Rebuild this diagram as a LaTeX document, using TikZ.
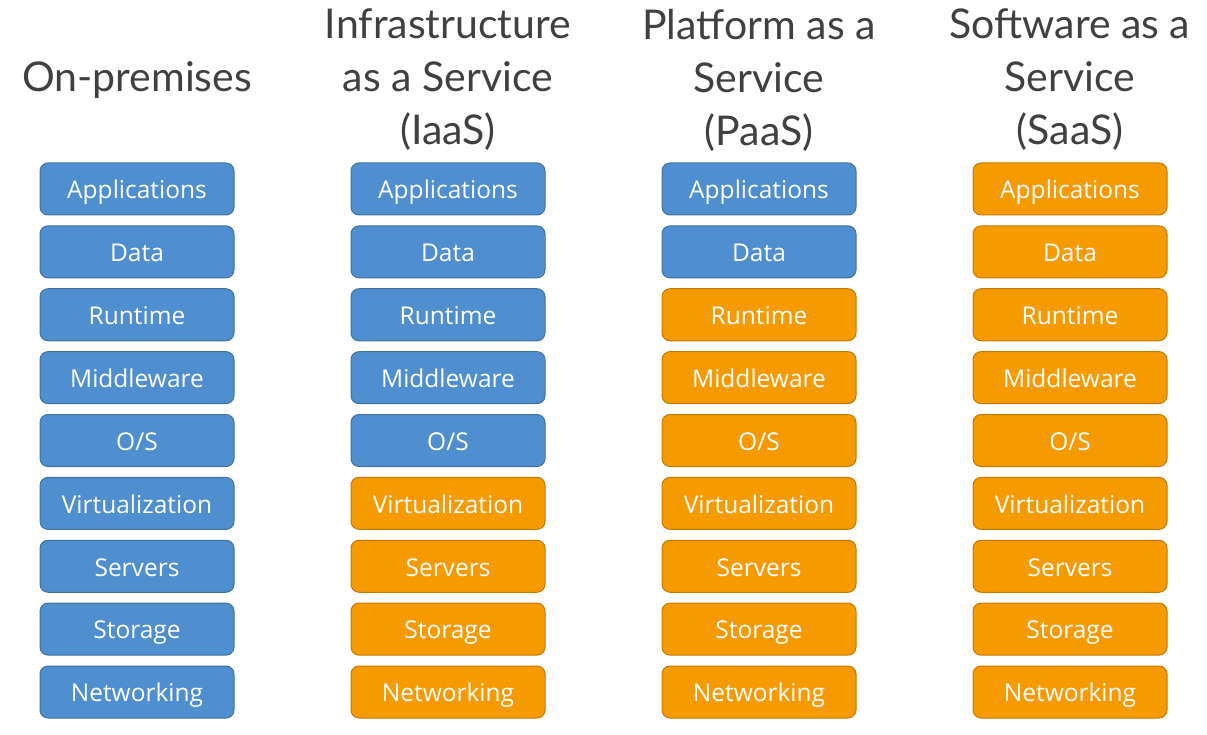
\documentclass[tikz,border=0pt]{standalone}
\usepackage{fontspec}
\setmainfont{Open Sans}
\newfontfamily\titlefont{Lato}
\definecolor{bfill}{HTML}{4F8FCF}
\definecolor{bline}{HTML}{41719C}
\definecolor{ofill}{HTML}{F59A00}
\definecolor{oline}{HTML}{C27A00}
\definecolor{ttext}{HTML}{404040}
\begin{document}
\begin{tikzpicture}[x=1pt,y=-1pt,
  layer/.style={minimum width=194pt,minimum height=52pt,rounded corners=8pt,line width=1pt,inner sep=0pt,text height=19.5pt,text depth=0pt,text=white,font=\fontsize{24.5}{28}\selectfont},
  bluebox/.style={layer,fill=bfill,draw=bline},
  orangebox/.style={layer,fill=ofill,draw=oline},
  ttl/.style={text=ttext,align=center,font=\titlefont\fontsize{41}{53}\selectfont,inner sep=0pt}]
\useasboundingbox (0,0) rectangle (1207,735);
\def\names{Applications,Data,Runtime,Middleware,O/S,Virtualization,Servers,Storage,Networking}
\foreach \c/\nb [count=\ci] in {137/9,448/5,759/2,1070/0}{
  \foreach \n [count=\i] in \names{
    \pgfmathsetmacro{\yy}{189+(\i-1)*62.875}
    \ifnum\i>\nb
      \node[orangebox] (b\ci-\i) at (\c,\yy) {\n};
    \else
      \node[bluebox] (b\ci-\i) at (\c,\yy) {\n};
    \fi
  }
}
\node[ttl] (t1) at (137,80) {On-premises};
\node[ttl] (t2) at (448,80) {Infrastructure\\as a Service\\(IaaS)};
\node[ttl] (t3) at (759,80) {Platform as a\\Service\\(PaaS)};
\node[ttl] (t4) at (1070,80) {Software as a\\Service\\(SaaS)};
\end{tikzpicture}
\end{document}
